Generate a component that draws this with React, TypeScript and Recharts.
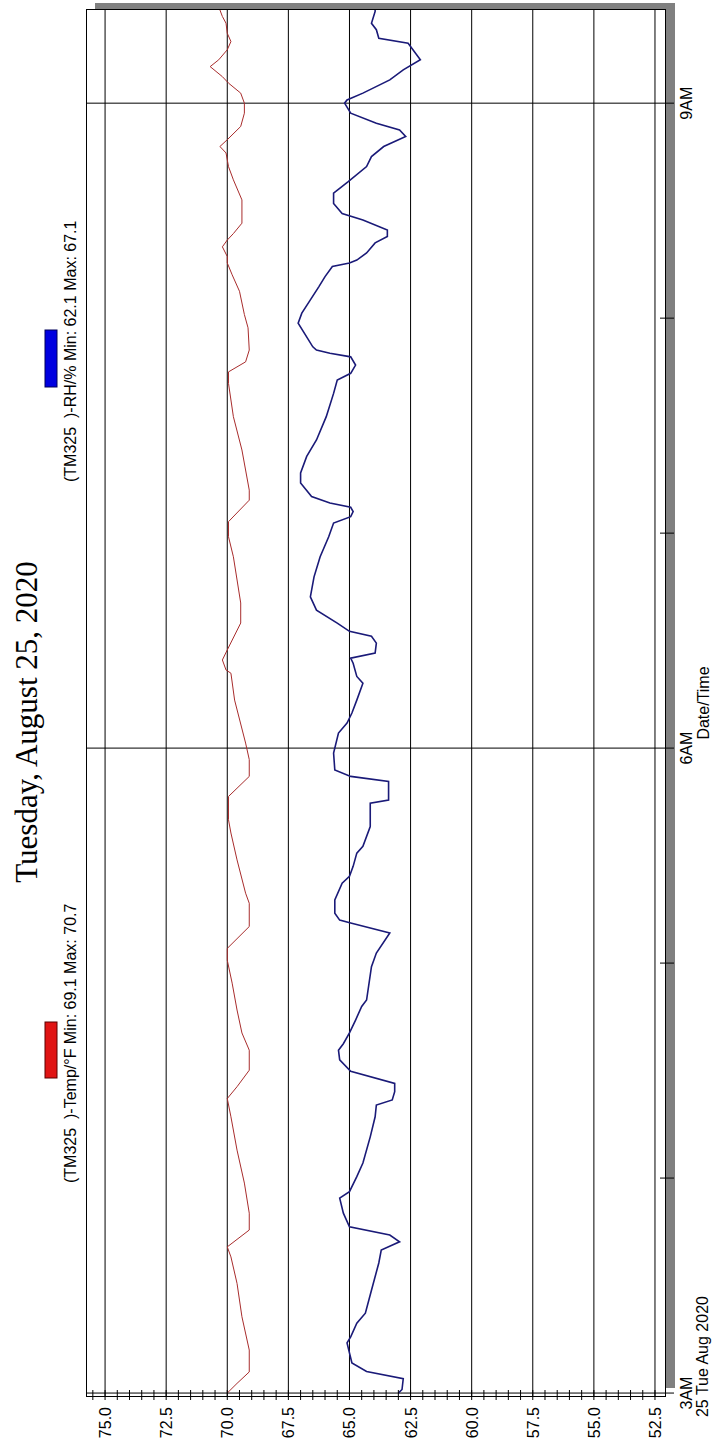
import { LineChart, Line, XAxis, YAxis, ReferenceLine } from "recharts"

// chart is drawn landscape and rotated -90deg to match the printout
const W = 1445
const H = 712

// minutes after 3:00 AM
const tempMinutes = [
  0, 2.7, 5.9, 12, 21.3, 30.6, 38, 40.8, 45.5, 50.2,
  58.6, 67.8, 77.1, 82.2, 85.5, 90.1, 95.7, 100.5, 106.9, 114.4,
  120.8, 124.1, 130.2, 136.7, 139.5, 148.8, 156.3, 160, 166.5, 172.1,
  176.8, 181.4, 193.4, 200.9, 201.8, 204.6, 207.4, 214.9, 220.5, 233.4,
  239, 243.2, 249.2, 252, 263.2, 272.5, 281.8, 285, 287.8, 291.1,
  297.3, 301, 307.5, 312.1, 315.4, 317.2, 319.9, 321.8, 323.6, 326.5,
  333, 338.6, 342.3, 346.1, 347.9, 349.8, 353.5, 357.2, 360, 362.8,
  365.6, 367.4, 370.2, 372.1, 374.9, 377.2, 379.5, 382.3, 384.2, 386,
]
const tempValues = [
  70.0, 69.6, 69.1, 69.1, 69.4, 69.6, 69.85, 70.0, 69.1, 69.1,
  69.3, 69.6, 69.85, 70.0, 69.6, 69.1, 69.1, 69.4, 69.6, 69.8,
  70.0, 70.0, 69.1, 69.1, 69.25, 69.6, 69.85, 69.95, 69.95, 69.1,
  69.1, 69.25, 69.7, 69.85, 70.05, 70.2, 70.0, 69.45, 69.45, 69.75,
  69.95, 69.95, 69.1, 69.1, 69.4, 69.75, 69.95, 69.95, 69.25, 69.1,
  69.15, 69.3, 69.5, 69.8, 70.0, 70.0, 70.2, 70.0, 69.75, 69.4,
  69.4, 69.75, 69.95, 70.05, 70.3, 70.0, 69.45, 69.3, 69.3, 69.45,
  69.95, 70.2, 70.7, 70.35, 70.0, 69.85, 70.0, 70.05, 70.2, 70.3,
]

const rhMinutes = [
  0, 1, 4, 6, 8.4, 14, 15.7, 19.5, 22.3, 28.7,
  36.3, 39.9, 42.2, 44.1, 46.4, 50.2, 54.4, 56.2, 60.4, 64.2,
  71.5, 77.1, 80.4, 81.8, 84.1, 86.4, 89.8, 93, 95.7, 97.5,
  100.5, 104.1, 107.9, 109.7, 119, 122.8, 128.4, 131.2, 132, 133.9,
  137.6, 142.3, 144.2, 147, 150.7, 152.6, 158.1, 164.6, 165.5, 170.7,
  172.1, 173.9, 178.6, 184.2, 187, 189.8, 193.4, 198.1, 200, 203.7,
  205.1, 206.5, 209.3, 211.2, 212.6, 214.9, 218.5, 222.2, 227.8, 233.4,
  239, 242.8, 244.6, 246, 247.2, 248.4, 250.2, 254, 256.8, 261.4,
  266, 272.5, 279, 282.7, 284.6, 286.9, 289.2, 290.2, 291.1, 292,
  298.6, 301.4, 305.1, 308.8, 311.6, 314.4, 315.4, 316.2, 318.2, 321,
  322.8, 324.6, 327.4, 329.2, 332, 334.9, 338.1, 342.3, 345.1, 347.9,
  350.7, 352.5, 354.4, 357.2, 360, 360.9, 362.8, 366.5, 369.3, 372.1,
  376.7, 378.1, 380.5, 382.3, 385.6, 386,
]
const rhValues = [
  63.0, 62.85, 62.8, 64.3, 64.9, 65.1, 64.95, 64.7, 64.35, 64.1,
  63.8, 63.7, 62.95, 63.35, 65.0, 65.25, 65.4, 65.0, 64.7, 64.45,
  64.15, 63.95, 63.9, 63.25, 63.15, 63.15, 64.95, 65.4, 65.45, 65.25,
  65.0, 64.75, 64.5, 64.3, 64.1, 63.9, 63.35, 64.95, 65.4, 65.6,
  65.6, 65.3, 65.0, 64.85, 64.7, 64.45, 64.15, 64.15, 63.4, 63.4,
  64.95, 65.6, 65.65, 65.45, 65.1, 64.9, 64.7, 64.45, 64.7, 64.85,
  64.95, 63.95, 63.9, 64.1, 65.0, 65.5, 66.35, 66.6, 66.45, 66.2,
  65.85, 65.65, 64.95, 64.85, 64.95, 65.8, 66.55, 67.0, 67.0, 66.75,
  66.35, 65.95, 65.65, 65.5, 64.95, 64.75, 64.95, 65.8, 66.35, 66.5,
  67.1, 66.95, 66.6, 66.25, 66.0, 65.7, 65.0, 64.7, 64.3, 63.95,
  63.45, 63.45, 64.45, 65.3, 65.65, 65.65, 65.05, 64.3, 64.1, 63.6,
  62.7, 62.95, 63.9, 64.95, 65.2, 65.1, 64.45, 63.35, 62.8, 62.1,
  62.6, 63.8, 63.9, 64.1, 63.95, 63.95,
]

const hourTicks = [0, 60, 120, 180, 240, 300, 360]
const labeledHours = [0, 180, 360]
const hourLabels = ["3AM", "6AM", "9AM"]
const dateLabel = "25 Tue Aug 2020"

const majorValues = [52.5, 55, 57.5, 60, 62.5, 65, 67.5, 70, 72.5, 75]
const minorValues = Array.from({ length: 47 }, (_, i) => 52.5 + i * 0.5)

const timeDomain = [-1.1, 386]
const valueDomain = [52.09, 75.78]

const tempData = tempMinutes.map((m, i) => ({ m, v: tempValues[i] }))
const rhData = rhMinutes.map((m, i) => ({ m, v: rhValues[i] }))

const FONT = "'Liberation Sans', Arial, sans-serif"

function TimeTick(props: any) {
  const { x, y, payload } = props
  const idx = labeledHours.indexOf(payload.value)
  return (
    <g>
      <line x1={x} x2={x} y1={idx >= 0 ? y : y - 5} y2={y + 9} stroke="#000" />
      {idx >= 0 && (
        <text x={x} y={y + 27} textAnchor="middle" fontSize={16} fontFamily={FONT} fill="#000">
          {hourLabels[idx]}
        </text>
      )}
      {payload.value === 0 && (
        <text x={x - 24} y={y + 43} textAnchor="start" fontSize={16} fontFamily={FONT} fill="#000">
          {dateLabel}
        </text>
      )}
    </g>
  )
}

function ValueTick(props: any) {
  const { x, y, payload } = props
  const v = payload.value
  const major = majorValues.some((m) => Math.abs(m - v) < 1e-6)
  return (
    <g>
      <line x1={x - 3} x2={x + 7} y1={y} y2={y} stroke="#000" />
      {major && (
        <text x={x - 10} y={y + 6} textAnchor="end" fontSize={16} fontFamily={FONT} fill="#000">
          {v.toFixed(1)}
        </text>
      )}
    </g>
  )
}

export default function App() {
  return (
    <div style={{ position: "relative", width: H, height: W, overflow: "hidden", background: "#fff" }}>
      <style>{"body{margin:0}"}</style>
      <div
        style={{
          position: "absolute",
          left: 0,
          top: 0,
          width: W,
          height: H,
          transformOrigin: "0 0",
          transform: `translateY(${W}px) rotate(-90deg)`,
        }}
      >
        {/* drop shadow + plot frame */}
        <div style={{ position: "absolute", left: 57, top: 95, width: 1385, height: 580, background: "#808080" }} />
        <div
          style={{
            position: "absolute",
            left: 48,
            top: 86,
            width: 1388,
            height: 580,
            background: "#fff",
            border: "1px solid #000",
            boxSizing: "border-box",
          }}
        />
        <div style={{ position: "absolute", left: 0, top: 0 }}>
          <LineChart width={W} height={H} margin={{ top: 86, right: 10, bottom: 0, left: 0 }}>
            <XAxis
              type="number"
              dataKey="m"
              domain={timeDomain}
              allowDataOverflow
              ticks={hourTicks}
              interval={0}
              height={47}
              tickSize={0}
              tickMargin={0}
              tickLine={false}
              axisLine={false}
              tick={TimeTick}
            />
            <YAxis
              type="number"
              domain={valueDomain}
              allowDataOverflow
              ticks={minorValues}
              interval={0}
              width={48}
              tickSize={0}
              tickMargin={0}
              tickLine={false}
              axisLine={false}
              tick={ValueTick}
            />
            {majorValues.map((v) => (
              <ReferenceLine key={"v" + v} y={v} stroke="#000" strokeWidth={1} />
            ))}
            {labeledHours.map((h) => (
              <ReferenceLine key={"h" + h} x={h} stroke="#000" strokeWidth={1} />
            ))}
            <Line
              data={tempData}
              dataKey="v"
              type="linear"
              stroke="#a82c2c"
              strokeWidth={1}
              dot={false}
              isAnimationActive={false}
            />
            <Line
              data={rhData}
              dataKey="v"
              type="linear"
              stroke="#1a1a78"
              strokeWidth={1.6}
              dot={false}
              isAnimationActive={false}
            />
          </LineChart>
        </div>
        <svg width={W} height={H} style={{ position: "absolute", left: 0, top: 0 }}>
          <text x={723} y={37} textAnchor="middle" fontSize={31} fontFamily="'Liberation Serif', 'Times New Roman', serif" fill="#000">
            Tuesday, August 25, 2020
          </text>
          <rect x={367} y={45} width={56} height={12} fill="#e01414" stroke="#5a0000" />
          <text x={262} y={76} fontSize={16} fontFamily={FONT} fill="#000" style={{ whiteSpace: "pre" }}>
            {"(TM325  )-Temp/°F Min: 69.1 Max: 70.7"}
          </text>
          <rect x={1058} y={45} width={57} height={12} fill="#0000e0" stroke="#00005a" />
          <text x={963} y={76} fontSize={16} fontFamily={FONT} fill="#000" style={{ whiteSpace: "pre" }}>
            {"(TM325  )-RH/% Min: 62.1 Max: 67.1"}
          </text>
          <text x={742} y={709} textAnchor="middle" fontSize={16} fontFamily={FONT} fill="#000">
            Date/Time
          </text>
        </svg>
      </div>
    </div>
  )
}
